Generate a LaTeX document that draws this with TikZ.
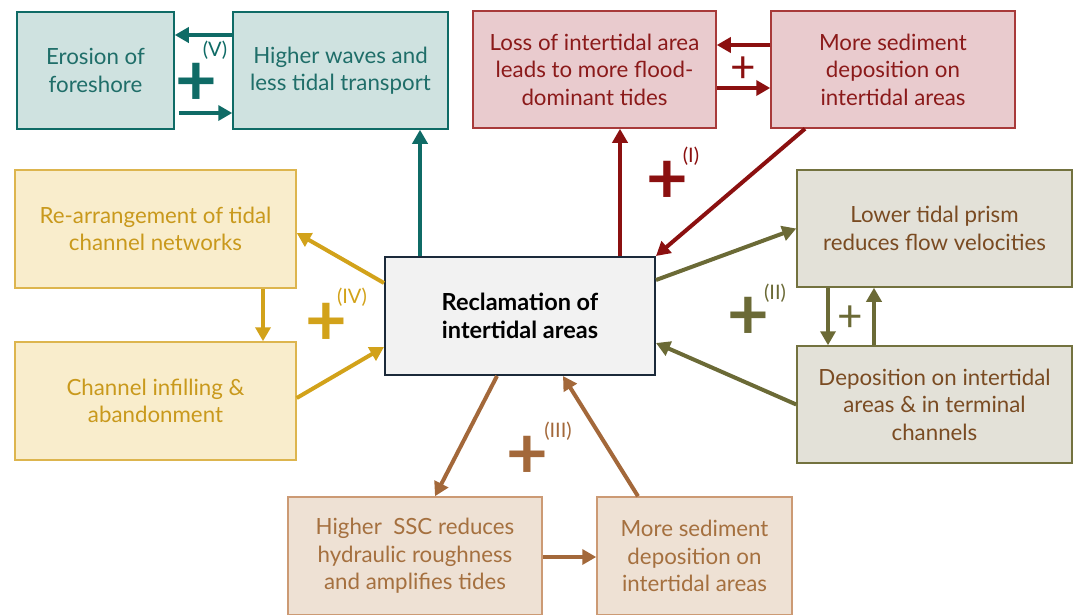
\documentclass[tikz,border=0pt]{standalone}
\usepackage{fontspec}
\setmainfont{Lato}
\usetikzlibrary{arrows.meta,calc}
\definecolor{tealA}{HTML}{0F6B66}
\definecolor{tealF}{HTML}{CFE2E0}
\definecolor{tealT}{HTML}{1F6E69}
\definecolor{redA}{HTML}{8B1010}
\definecolor{redF}{HTML}{E9CBCE}
\definecolor{redB}{HTML}{A83A3A}
\definecolor{redT}{HTML}{8B1A1A}
\definecolor{oliA}{HTML}{6B6A36}
\definecolor{oliF}{HTML}{E3E1D8}
\definecolor{oliB}{HTML}{73723F}
\definecolor{oliT}{HTML}{7A4B22}
\definecolor{yelA}{HTML}{D2A21A}
\definecolor{yelF}{HTML}{F9EDCC}
\definecolor{yelB}{HTML}{DDB54E}
\definecolor{yelT}{HTML}{C9991C}
\definecolor{brA}{HTML}{A3683A}
\definecolor{brF}{HTML}{EEE1D4}
\definecolor{brB}{HTML}{CC9A74}
\definecolor{brT}{HTML}{A5703F}
\definecolor{cenF}{HTML}{F2F2F2}
\definecolor{cenB}{HTML}{1B2A3A}
\newcommand{\plusglyph}{\raisebox{-0.36em}[0pt][0pt]{+}}
\tikzset{
  box/.style={draw, line width=1.5pt, rectangle, align=center, inner sep=0pt,
    font=\fontsize{22.3}{27.5}\selectfont},
  conn/.style={line width=4pt, -{Triangle[length=14pt,width=15pt]}},
  bigplus/.style={font=\fontsize{72}{72}\selectfont\bfseries, inner sep=0pt},
  smallplus/.style={font=\fontsize{44}{44}\selectfont, inner sep=0pt},
  rom/.style={font=\fontsize{20}{20}\selectfont, inner sep=0pt}
}
\begin{document}
\begin{tikzpicture}[x=1pt,y=-1pt]
\useasboundingbox (0,0) rectangle (1077,614);
\begin{scope}
\clip (0,0) rectangle (1077,614);
% boxes
\node[box, draw=tealA, fill=tealF, text=tealT, minimum width=157pt, minimum height=117pt] (ero) at (95.5,70.5) {Erosion of\\foreshore};
\node[box, draw=tealA, fill=tealF, text=tealT, minimum width=215pt, minimum height=117pt] (wav) at (340.5,70.5) {Higher waves and\\less tidal transport};
\node[box, draw=redB, fill=redF, text=redT, minimum width=243pt, minimum height=117pt] (loss) at (594.5,69.5) {Loss of intertidal area\\leads to more flood-\\dominant tides};
\node[box, draw=redB, fill=redF, text=redT, minimum width=244pt, minimum height=117pt] (msed) at (893,69.5) {More sediment\\deposition on\\intertidal areas};
\node[box, draw=yelB, fill=yelF, text=yelT, minimum width=281pt, minimum height=118pt] (rearr) at (155.5,229) {Re-arrangement of tidal\\channel networks};
\node[box, draw=yelB, fill=yelF, text=yelT, minimum width=281pt, minimum height=118pt] (chan) at (155.5,401) {Channel infilling \&\\abandonment};
\node[box, draw=cenB, fill=cenF, text=black, line width=2pt, minimum width=270pt, minimum height=118pt, font=\fontsize{23.5}{27.5}\selectfont\bfseries] (rec) at (520,316) {Reclamation of\\intertidal areas};
\node[box, draw=oliB, fill=oliF, text=oliT, minimum width=275pt, minimum height=117pt] (low) at (934.5,228.5) {Lower tidal prism\\reduces flow velocities};
\node[box, draw=oliB, fill=oliF, text=oliT, minimum width=275pt, minimum height=117pt] (dep) at (934.5,404.5) {Deposition on intertidal\\areas \& in terminal\\channels};
\node[box, draw=brB, fill=brF, text=brT, minimum width=254pt, minimum height=118pt] (ssc) at (415,556) {Higher\ \ SSC reduces\\hydraulic roughness\\and amplifies tides};
\node[box, draw=brB, fill=brF, text=brT, minimum width=195pt, minimum height=118pt] (msb) at (694.5,556) {More sediment\\deposition on\\intertidal areas};
\end{scope}
% teal loop (V)
\draw[conn, tealA] ([yshift=35.5pt]wav.west) -- ([yshift=35.5pt]ero.east);
\draw[conn, tealA] ([yshift=-42.5pt,xshift=4pt]ero.east) -- ([yshift=-42.5pt]wav.west);
\coordinate (t1) at ([xshift=-100pt]rec.north);
\draw[conn, tealA] (t1) -- (t1 |- wav.south);
\node[bigplus, text=tealA] (pV) at (196,80) {\plusglyph};
\node[rom, text=tealA] (lV) at (215,50) {(V)};
% red loop (I)
\draw[conn, redA] ([yshift=24.5pt]msed.west) -- ([yshift=24.5pt]loss.east);
\draw[conn, redA] ([yshift=-18.5pt]loss.east) -- ([yshift=-18.5pt]msed.west);
\node[smallplus, text=redA] (pIs) at (743,67) {\plusglyph};
\coordinate (r1) at ([xshift=100pt]rec.north);
\draw[conn, redA] (r1) -- (r1 |- loss.south);
\draw[conn, redA] ([xshift=-88pt]msed.south) -- (rec.north east);
\node[bigplus, text=redA] (pI) at (667,178) {\plusglyph};
\node[rom, text=redA] (lI) at (691,156) {(I)};
% olive loop (II)
\draw[conn, oliA] ([yshift=36pt]rec.east) -- (low.west);
\draw[conn, oliA] (dep.west) -- ([yshift=-27pt]rec.east);
\draw[conn, oliA] ([xshift=-106.5pt]low.south) -- ([xshift=-106.5pt]dep.north);
\draw[conn, oliA] ([xshift=-60.5pt]dep.north) -- ([xshift=-60.5pt]low.south);
\node[smallplus, text=oliA] (pIIs) at (850,316) {\plusglyph};
\node[bigplus, text=oliA] (pII) at (748,314) {\plusglyph};
\node[rom, text=oliA] (lII) at (775,293) {(II)};
% yellow loop (IV)
\draw[conn, yelA] ([yshift=33pt]rec.west) -- ([yshift=-4pt]rearr.east);
\draw[conn, yelA] ([yshift=3pt]chan.east) -- ([yshift=-31pt]rec.west);
\draw[conn, yelA] ([xshift=107.5pt]rearr.south) -- ([xshift=107.5pt]chan.north);
\node[bigplus, text=yelA] (pIV) at (326,320) {\plusglyph};
\node[rom, text=yelA] (lIV) at (352,297) {(IV)};
% brown loop (III)
\draw[conn, brA] ([xshift=-23pt]rec.south) -- ([xshift=20pt]ssc.north);
\draw[conn, brA] ([xshift=-56.5pt]msb.north) -- ([xshift=43pt]rec.south);
\draw[conn, brA] ([yshift=-1pt]ssc.east) -- ([yshift=-1pt]msb.west);
\node[bigplus, text=brA] (pIII) at (527,453) {\plusglyph};
\node[rom, text=brA] (lIII) at (558,431) {(III)};
\end{tikzpicture}
\end{document}
